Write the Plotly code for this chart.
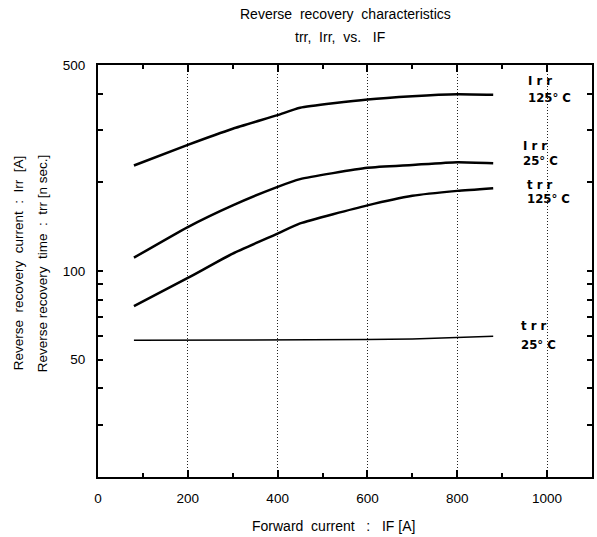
import plotly.graph_objects as go

# ---- data ----
x_if = [80, 200, 300, 400, 450, 600, 700, 800, 880]
irr_125 = [228, 268, 304, 338, 358, 382, 392, 398, 396]
irr_25 = [111, 141, 167, 193, 205, 224, 229, 234, 232]
trr_125 = [76, 94.7, 114.6, 134, 145, 167, 180, 187, 191]
x_trr25 = [80, 400, 600, 700, 800, 880]
trr_25 = [58.2, 58.3, 58.5, 58.8, 59.4, 60.1]

x_ticks = [0, 200, 400, 600, 800, 1000]
x_minor = [100, 300, 500, 700, 900]
y_ticks = [30, 40, 50, 60, 70, 80, 90, 100, 200, 300, 400, 500]
y_ticktext = ["", "", "50", "", "", "", "", "100", "", "", "", "500"]

# curve labels: (line1, line2, left x px, line1 centre y px, line2 centre y px)
labels = [
    ("I r r", "125° C", 528, 80, 98),
    ("I r r", "25° C", 523, 145, 160.5),
    ("t r r", "125° C", 527, 184, 198),
    ("t r r", "25° C", 521, 325, 344),
]

base_font = "Liberation Sans, Arial, sans-serif"
label_font = "DejaVu Sans Condensed, Liberation Sans Narrow, Arial Narrow, sans-serif"

L, R, T, B, W, H = 98, 3, 65, 60, 597, 537
PW, PH = W - L - R, H - T - B


def px_x(px):
    return (px - L) / PW


def px_y(py):
    return 1 - (py - T) / PH


fig = go.Figure()
for ys in (irr_125, irr_25, trr_125):
    fig.add_trace(go.Scatter(x=x_if, y=ys, mode="lines", line_shape="spline",
                             line=dict(color="black", width=2.5, smoothing=0.5),
                             showlegend=False, hoverinfo="skip"))
fig.add_trace(go.Scatter(x=x_trr25, y=trr_25, mode="lines",
                         line=dict(color="black", width=1.5),
                         showlegend=False, hoverinfo="skip"))

fig.update_layout(
    width=W, height=H,
    margin=dict(l=L, r=R, t=T, b=B),
    paper_bgcolor="white", plot_bgcolor="white",
    font=dict(family=base_font, size=13, color="black"),
)

fig.update_xaxes(
    range=[0, 1100],
    tickvals=x_ticks,
    ticks="inside", ticklen=7, tickwidth=2, tickcolor="black",
    showline=True, linewidth=2, linecolor="black", mirror="ticks",
    showgrid=True, gridcolor="#222", griddash="1px,2px", gridwidth=1,
    zeroline=False,
    minor=dict(tickvals=x_minor, ticks="inside", ticklen=4, tickwidth=2,
               tickcolor="black", showgrid=False),
    tickfont=dict(size=13.5),
    ticklabelstandoff=8,
)

fig.update_yaxes(
    type="log",
    range=[1.30103, 2.69897],
    tickvals=y_ticks, ticktext=y_ticktext,
    ticks="inside", ticklen=5, tickwidth=2, tickcolor="black",
    showline=True, linewidth=2, linecolor="black", mirror="ticks",
    showgrid=False, zeroline=False,
    tickfont=dict(size=13.5),
    ticklabelstandoff=8,
)

# horizontal dotted grid line at 100
fig.add_shape(type="line", xref="paper", x0=0, x1=1, yref="y",
              y0=2, y1=2, line=dict(color="#222", width=1, dash="1px,2px"))

ann = [
    dict(text="Reverse  recovery  characteristics", x=0.5, y=px_y(14)),
    dict(text="trr,  Irr,  vs.   IF", x=0.49, y=px_y(37)),
    dict(text="Forward  current   :   IF [A]", x=px_x(334), y=px_y(526)),
]
for a in ann:
    fig.add_annotation(text=a["text"], xref="paper", yref="paper",
                       x=a["x"], y=a["y"], xanchor="center", yanchor="middle",
                       showarrow=False, font=dict(size=14, family=base_font))

fig.add_annotation(text="Reverse  recovery  current  :  Irr  [A]", xref="paper", yref="paper",
                   x=px_x(18), y=px_y(263), textangle=-90, showarrow=False,
                   xanchor="center", yanchor="middle",
                   font=dict(size=13.5, family=base_font))
fig.add_annotation(text="Reverse recovery  time  :  trr [n sec.]", xref="paper", yref="paper",
                   x=px_x(42), y=px_y(263), textangle=-90, showarrow=False,
                   xanchor="center", yanchor="middle",
                   font=dict(size=13.5, family=base_font))

for l1, l2, xl, y1, y2 in labels:
    for txt, yy in ((l1, y1), (l2, y2)):
        fig.add_annotation(text="<b>" + txt + "</b>", xref="paper", yref="paper",
                           x=px_x(xl), y=px_y(yy), xanchor="left", yanchor="middle",
                           showarrow=False,
                           font=dict(size=13, family=label_font))

fig.write_html("out.html")
